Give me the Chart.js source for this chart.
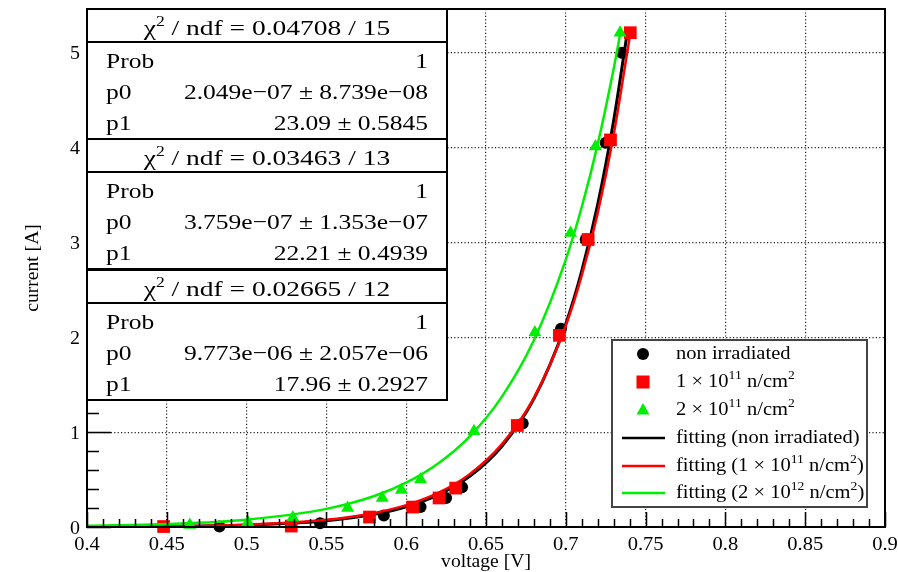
<!DOCTYPE html>
<html>
<head>
<meta charset="utf-8">
<script src="https://cdn.jsdelivr.net/npm/chart.js@4.4.1/dist/chart.umd.min.js"></script>
<style>
  html, body { margin: 0; padding: 0; background: #fff; }
  canvas { display: block; }
</style>
</head>
<body>
<canvas id="iv" width="898" height="572"></canvas>
<script>
// measured I-V points
const voltNon = [0.483, 0.546, 0.586, 0.609, 0.625, 0.635, 0.673, 0.697, 0.7125, 0.725, 0.735];
const currNon = [0.005, 0.04, 0.12, 0.21, 0.306, 0.42, 1.09, 2.09, 3.03, 4.05, 5.0];

const voltLow = [0.448, 0.528, 0.577, 0.604, 0.6206, 0.631, 0.6696, 0.696, 0.714, 0.728, 0.7404];
const currLow = [0.005, 0.01, 0.105, 0.21, 0.306, 0.41, 1.07, 2.02, 3.03, 4.08, 5.21];

const voltHigh = [0.4644, 0.5008, 0.529, 0.5633, 0.585, 0.597, 0.609, 0.6425, 0.6806, 0.703, 0.7186, 0.734];
const currHigh = [0.02, 0.05, 0.1, 0.2, 0.306, 0.39, 0.5, 1.01, 2.05, 3.10, 4.01, 5.21];

// fitted curves, sampled
const fitVolt = [0.40, 0.45, 0.50, 0.55, 0.58, 0.60, 0.62, 0.64, 0.66, 0.68, 0.70, 0.71, 0.72, 0.73];
const fitNon  = [0.0021, 0.0067, 0.0212, 0.0671, 0.134, 0.213, 0.338, 0.536, 0.851, 1.35, 2.143, 2.70, 3.40, 4.285];
const fitLow  = [0.0027, 0.0082, 0.025, 0.076, 0.148, 0.230, 0.359, 0.560, 0.874, 1.362, 2.124, 2.652, 3.311, 4.135];
const fitHigh = [0.0129, 0.0316, 0.0776, 0.191, 0.327, 0.468, 0.670, 0.959, 1.374, 1.968, 2.819, 3.373, 4.036, 4.831];
const fitEndNon = [0.738, 5.154];
const fitEndLow = [0.740, 5.163];
const fitEndHigh = [0.7345, 5.237];

// fit results
const statChi = ["0.04708 / 15", "0.03463 / 13", "0.02665 / 12"];
const statProb = ["1", "1", "1"];
const statP0 = ["2.049e\u221207 \u00b1 8.739e\u221208", "3.759e\u221207 \u00b1 1.353e\u221207", "9.773e\u221206 \u00b1 2.057e\u221206"];
const statP1 = ["23.09 \u00b1 0.5845", "22.21 \u00b1 0.4939", "17.96 \u00b1 0.2927"];

const BLACK = "#000000";
const RED = "#ff0000";
const GREEN = "#00ee00";
const SERIF = "'Liberation Serif', 'Times New Roman', serif";

function pts(xs, ys) {
  return xs.map((x, i) => ({ x: x, y: ys[i] }));
}
function fitPts(ys, end) {
  const out = pts(fitVolt, ys);
  out.push({ x: end[0], y: end[1] });
  return out;
}

// text with superscript runs: [[text, isSup], ...]
function drawRuns(ctx, runs, x, y, size, align, sx) {
  const sup = Math.round(size * 0.64);
  let w = 0;
  runs.forEach(r => {
    ctx.font = (r[1] ? sup : size) + "px " + SERIF;
    w += ctx.measureText(r[0]).width;
  });
  w *= sx;
  let cx = align === "center" ? x - w / 2 : align === "right" ? x - w : x;
  ctx.textAlign = "left";
  ctx.textBaseline = "alphabetic";
  runs.forEach(r => {
    ctx.font = (r[1] ? sup : size) + "px " + SERIF;
    const tw = ctx.measureText(r[0]).width;
    ctx.save();
    ctx.translate(cx, r[1] ? y - size * 0.42 : y);
    ctx.scale(sx, 1);
    ctx.fillText(r[0], 0, 0);
    ctx.restore();
    cx += tw * sx;
  });
}

const frameAndTicks = {
  id: "frameAndTicks",
  afterDatasetsDraw(chart) {
    const ctx = chart.ctx;
    const a = chart.chartArea;
    const xs = chart.scales.x, ys = chart.scales.y;
    ctx.save();
    ctx.strokeStyle = "#000";
    ctx.lineWidth = 1.5;
    ctx.beginPath();
    for (let i = 0; i <= 50; i++) {
      const v = 0.4 + i * 0.01;
      const px = Math.round(xs.getPixelForValue(v)) + 0.5;
      const len = i % 5 === 0 ? 15 : 8;
      ctx.moveTo(px, a.bottom);
      ctx.lineTo(px, a.bottom - len);
    }
    for (let i = 0; i <= 27; i++) {
      const v = i * 0.2;
      const py = Math.round(ys.getPixelForValue(v)) + 0.5;
      const len = i % 5 === 0 ? 24 : 12;
      ctx.moveTo(a.left, py);
      ctx.lineTo(a.left + len, py);
    }
    ctx.stroke();
    ctx.lineWidth = 2;
    ctx.strokeRect(a.left, a.top, a.right - a.left, a.bottom - a.top);

    // tick labels from the scales' own ticks
    ctx.fillStyle = "#000";
    xs.ticks.forEach(t => {
      drawRuns(ctx, [[String(+t.value.toFixed(2)), false]], xs.getPixelForValue(t.value), a.bottom + 23, 19, "center", 1.08);
    });
    ys.ticks.forEach(t => {
      drawRuns(ctx, [[String(t.value), false]], a.left - 7, ys.getPixelForValue(t.value) + 6.5, 19, "right", 1.05);
    });

    drawRuns(ctx, [["voltage [V]", false]], (a.left + a.right) / 2, 567, 18.5, "center", 1.06);
    ctx.save();
    ctx.translate(38, (a.top + a.bottom) / 2);
    ctx.rotate(-Math.PI / 2);
    drawRuns(ctx, [["current [A]", false]], 0, 0, 18.5, "center", 1.06);
    ctx.restore();
    ctx.restore();
  },
  afterDraw(chart) {
    const ctx = chart.ctx;
    ctx.save();
    // fit statistics boxes
    const tops = [9, 139, 270];
    const L = 87, R = 447, H = 130;
    tops.forEach((t, i) => {
      const h = i === 2 ? 400 - t : H;
      ctx.fillStyle = "#fff";
      ctx.fillRect(L, t, R - L, h);
      ctx.strokeStyle = "#000";
      ctx.lineWidth = 2;
      ctx.strokeRect(L, t, R - L, h);
      ctx.beginPath();
      ctx.moveTo(L, t + 33);
      ctx.lineTo(R, t + 33);
      ctx.stroke();
      ctx.fillStyle = "#000";
      drawRuns(ctx, [["\u03c7", false], ["2", true], [" / ndf = " + statChi[i], false]], (L + R) / 2, t + 26, 22, "center", 1.25);
      drawRuns(ctx, [["Prob", false]], 106, t + 59, 22, "left", 1.16);
      drawRuns(ctx, [[statProb[i], false]], 428, t + 59, 22, "right", 1.16);
      drawRuns(ctx, [["p0", false]], 106, t + 90, 22, "left", 1.16);
      drawRuns(ctx, [[statP0[i], false]], 428, t + 90, 22, "right", 1.16);
      drawRuns(ctx, [["p1", false]], 106, t + 121, 22, "left", 1.16);
      drawRuns(ctx, [[statP1[i], false]], 428, t + 121, 22, "right", 1.16);
    });

    // legend
    const lx = 612, ly = 340, lw = 255, lh = 167;
    ctx.fillStyle = "#fff";
    ctx.fillRect(lx, ly, lw, lh);
    ctx.strokeStyle = "#444";
    ctx.lineWidth = 2;
    ctx.strokeRect(lx, ly, lw, lh);
    const rows = [354, 382, 410, 438, 466, 493];
    const mx = 643, tx = 676, fs = 18, sx = 1.14;
    ctx.fillStyle = BLACK;
    ctx.beginPath(); ctx.arc(mx, rows[0], 6, 0, Math.PI * 2); ctx.fill();
    ctx.fillStyle = RED;
    ctx.fillRect(mx - 6.5, rows[1] - 6.5, 13, 13);
    ctx.fillStyle = GREEN;
    ctx.beginPath();
    ctx.moveTo(mx, rows[2] - 7); ctx.lineTo(mx + 6.5, rows[2] + 4.5); ctx.lineTo(mx - 6.5, rows[2] + 4.5);
    ctx.closePath(); ctx.fill();
    [BLACK, RED, GREEN].forEach((c, i) => {
      ctx.strokeStyle = c;
      ctx.lineWidth = 2.5;
      ctx.beginPath();
      ctx.moveTo(622, rows[3 + i]);
      ctx.lineTo(665, rows[3 + i]);
      ctx.stroke();
    });
    ctx.fillStyle = "#000";
    const legendRuns = [
      [["non irradiated", false]],
      [["1 \u00d7 10", false], ["11", true], [" n/cm", false], ["2", true]],
      [["2 \u00d7 10", false], ["11", true], [" n/cm", false], ["2", true]],
      [["fitting (non irradiated)", false]],
      [["fitting (1 \u00d7 10", false], ["11", true], [" n/cm", false], ["2", true], [")", false]],
      [["fitting (2 \u00d7 10", false], ["12", true], [" n/cm", false], ["2", true], [")", false]]
    ];
    legendRuns.forEach((r, i) => drawRuns(ctx, r, tx, rows[i] + 5, fs, "left", sx));
    ctx.restore();
  }
};

new Chart(document.getElementById("iv").getContext("2d"), {
  type: "line",
  data: {
    datasets: [
      { label: "fit 2e12", data: fitPts(fitHigh, fitEndHigh), borderColor: GREEN, borderWidth: 2.5,
        pointRadius: 0, cubicInterpolationMode: "monotone", order: 1 },
      { label: "2e11", data: pts(voltHigh, currHigh), showLine: false, pointStyle: "triangle",
        pointRadius: 7.5, backgroundColor: GREEN, borderColor: GREEN, borderWidth: 0, clip: false, order: 2 },
      { label: "fit 1e11", data: fitPts(fitLow, fitEndLow), borderColor: RED, borderWidth: 2.5,
        pointRadius: 0, cubicInterpolationMode: "monotone", order: 3 },
      { label: "1e11", data: pts(voltLow, currLow), showLine: false, pointStyle: "rect",
        pointRadius: 9, backgroundColor: RED, borderColor: RED, borderWidth: 0, clip: false, order: 4 },
      { label: "fit non", data: fitPts(fitNon, fitEndNon), borderColor: BLACK, borderWidth: 3,
        pointRadius: 0, cubicInterpolationMode: "monotone", order: 5 },
      { label: "non irradiated", data: pts(voltNon, currNon), showLine: false, pointStyle: "circle",
        pointRadius: 6, backgroundColor: BLACK, borderColor: BLACK, borderWidth: 0, clip: false, order: 6 }
    ]
  },
  options: {
    responsive: false,
    animation: false,
    layout: { padding: { top: 9, right: 13, left: 0, bottom: 0 } },
    plugins: { legend: { display: false }, tooltip: { enabled: false } },
    scales: {
      x: {
        type: "linear",
        min: 0.4, max: 0.9,
        afterFit: s => { s.height = 45; },
        ticks: { stepSize: 0.05, display: false },
        grid: {
          drawTicks: false,
          color: c => (c.tick && (c.tick.value < 0.41 || c.tick.value > 0.89)) ? "rgba(0,0,0,0)" : "#222",
          lineWidth: 1.2
        },
        border: { display: false, dash: [1.2, 2.2] }
      },
      y: {
        type: "linear",
        min: 0, max: 5.46,
        afterFit: s => { s.width = 87; },
        ticks: { stepSize: 1, includeBounds: false, display: false },
        grid: {
          drawTicks: false,
          color: c => (c.tick && c.tick.value < 0.5) ? "rgba(0,0,0,0)" : "#222",
          lineWidth: 1.2
        },
        border: { display: false, dash: [1.2, 2.2] }
      }
    }
  },
  plugins: [frameAndTicks]
});
</script>
</body>
</html>
